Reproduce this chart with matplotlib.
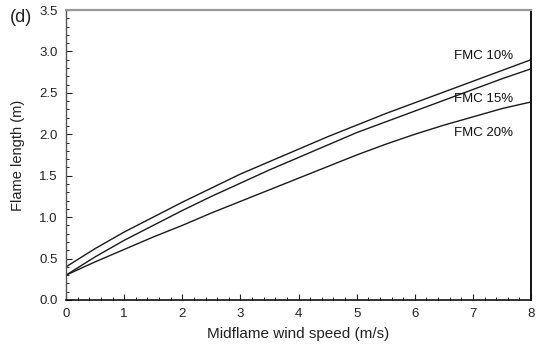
import matplotlib
matplotlib.use("Agg")
import matplotlib.pyplot as plt
from matplotlib.ticker import MultipleLocator, FormatStrFormatter

plt.rcParams['font.family'] = ['Liberation Sans', 'DejaVu Sans']

# Midflame wind speed (m/s)
wind_speed = [0, 0.5, 1, 1.5, 2, 2.5, 3, 3.5, 4, 4.5, 5, 5.5, 6, 6.5, 7, 7.5, 8]

# Flame length (m) for each fuel moisture content
flame_fmc10 = [0.40, 0.62, 0.82, 1.00, 1.18, 1.35, 1.52, 1.67, 1.82, 1.97,
               2.11, 2.25, 2.38, 2.51, 2.64, 2.77, 2.90]
flame_fmc15 = [0.30, 0.52, 0.72, 0.90, 1.08, 1.25, 1.41, 1.57, 1.72, 1.87,
               2.02, 2.15, 2.28, 2.41, 2.54, 2.67, 2.79]
flame_fmc20 = [0.30, 0.46, 0.61, 0.76, 0.90, 1.05, 1.19, 1.33, 1.47, 1.61,
               1.75, 1.88, 2.00, 2.11, 2.21, 2.31, 2.39]

series_labels = ["FMC 10%", "FMC 15%", "FMC 20%"]
label_x = [7.18, 7.18, 7.18]
label_y = [2.94, 2.43, 2.01]

fig = plt.figure(figsize=(5.37, 3.45), dpi=100)
ax = fig.add_axes([66 / 537, 45 / 345, 465 / 537, 290 / 345])

for ys in (flame_fmc10, flame_fmc15, flame_fmc20):
    ax.plot(wind_speed, ys, color='#1a1a1a', linewidth=1.0)

for text, tx, ty in zip(series_labels, label_x, label_y):
    ax.text(tx, ty, text, ha='center', va='center', fontsize=9.5, color='#111111')

ax.set_xlim(0, 8)
ax.set_ylim(0, 3.5)
ax.xaxis.set_major_locator(MultipleLocator(1))
ax.xaxis.set_minor_locator(MultipleLocator(0.2))
ax.yaxis.set_major_locator(MultipleLocator(0.5))
ax.yaxis.set_minor_locator(MultipleLocator(0.1))
ax.yaxis.set_major_formatter(FormatStrFormatter('%.1f'))

ax.tick_params(which='both', direction='in', top=False, right=False,
               colors='#222222', labelsize=9.5)
ax.tick_params(which='major', length=4, width=0.8, pad=6)
ax.tick_params(which='minor', length=2.5, width=0.7)

ax.spines['top'].set_color('#999999')
ax.spines['top'].set_linewidth(1.6)
ax.spines['left'].set_color('#555555')
ax.spines['left'].set_linewidth(1.0)
ax.spines['right'].set_color('#111111')
ax.spines['right'].set_linewidth(1.4)
ax.spines['bottom'].set_color('#111111')
ax.spines['bottom'].set_linewidth(1.2)

ax.set_xlabel("Midflame wind speed (m/s)", fontsize=11, color='#222222', labelpad=5)
ax.set_ylabel("Flame length (m)", fontsize=10.5, color='#222222', labelpad=10)

fig.text(10 / 537, 1 - 18 / 345, "(d)", fontsize=13, ha='left', va='center', color='#222222')

fig.savefig("out.png", dpi=100)
